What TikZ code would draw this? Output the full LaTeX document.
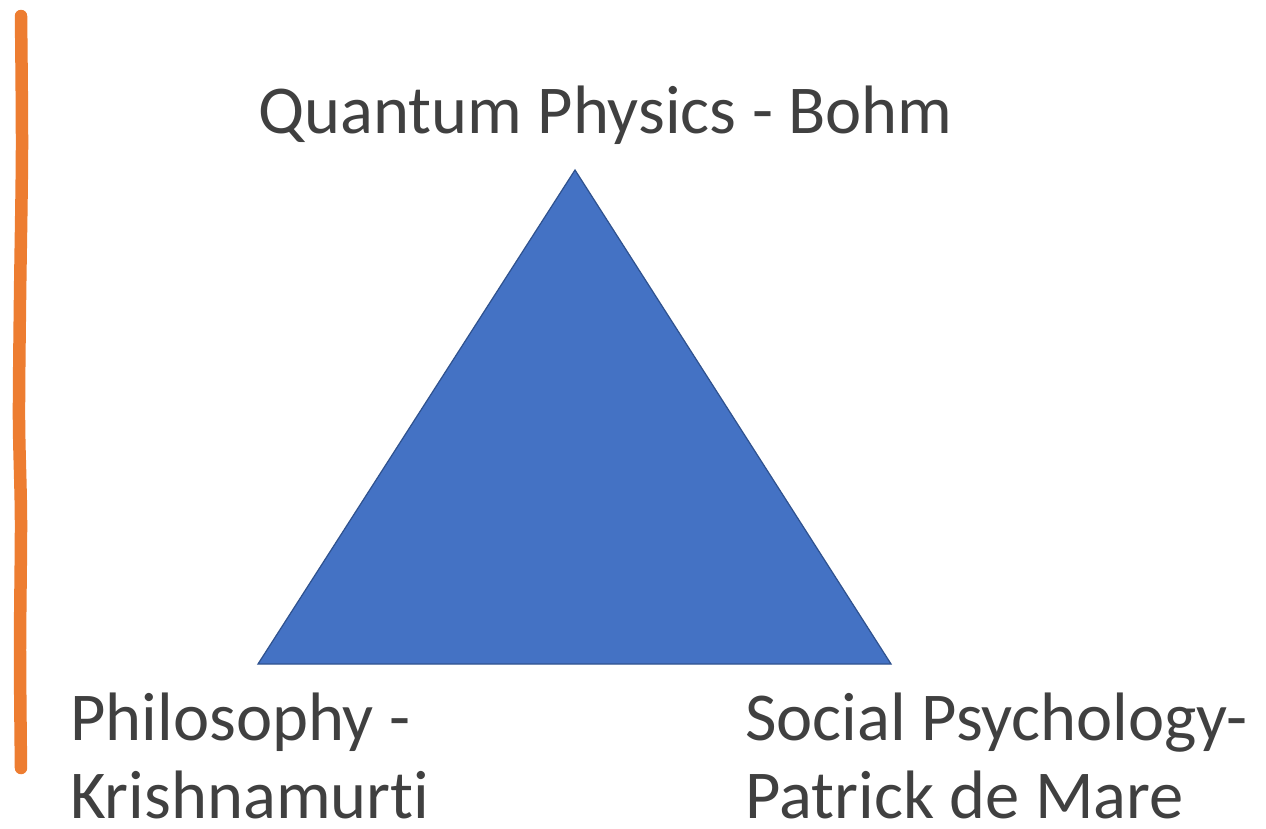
\documentclass[tikz,border=0pt]{standalone}
\usepackage{fontspec}
\setmainfont{Carlito}[Ligatures={NoCommon}]
\definecolor{tri}{HTML}{4472C4}
\definecolor{triedge}{HTML}{2F528F}
\definecolor{orng}{HTML}{ED7D31}
\definecolor{txt}{HTML}{404040}
\begin{document}
\begin{tikzpicture}[x=0.02cm,y=-0.02cm,
  lbl/.style={anchor=base west,inner sep=0pt,text=txt,font=\fontsize{39}{46}\selectfont}]
\useasboundingbox (0,0) rectangle (1266,828);
\draw[orng,line width=0.25cm,line cap=round] plot[smooth] coordinates {(21,16) (22,150) (20,300) (19,420) (21,520) (20,650) (21,768)};
\coordinate (apex) at (575,170);
\coordinate (bl) at (258,664);
\coordinate (br) at (891,664);
\filldraw[fill=tri,draw=triedge,line width=0.7pt] (apex) -- (br) -- (bl) -- cycle;
\node[lbl] (top) at (258,133) {Quantum Physics - Bohm};
\node[lbl] (l1) at (70,740) {Philosophy -};
\node[lbl] (l2) at (70,818) {Krishnamurti};
\node[lbl] (r1) at (745,740) {Social Psychology-};
\node[lbl] (r2) at (745,818) {Patrick de Mare};
\end{tikzpicture}
\end{document}
